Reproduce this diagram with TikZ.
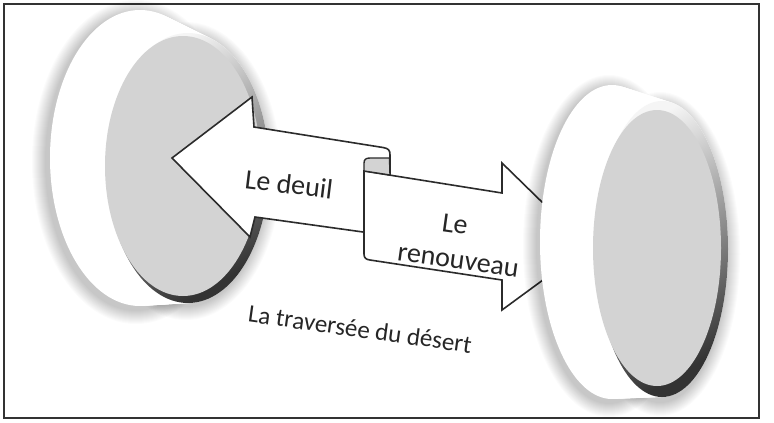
\documentclass[tikz,border=0pt]{standalone}
\usepackage{fontspec}
\setmainfont{Carlito}
\definecolor{linec}{HTML}{2B2B2B}
\definecolor{framec}{HTML}{333333}
\definecolor{facec}{HTML}{D3D3D3}
\definecolor{textc}{HTML}{262626}
\begin{document}
\begin{tikzpicture}[x=1pt,y=-1pt,
  ribbon/.style={fill=white, draw=linec, line width=1.6pt, line join=miter},
  lbl/.style={text=textc, font=\fontsize{28}{31}\selectfont, align=center, inner sep=0pt}]
\useasboundingbox (0,0) rectangle (774,423);
\fill[white] (0,0) rectangle (774,423);
\draw[line width=2.5pt, framec] (4,4) rectangle (759,418);

% ---- halo of left disk
\foreach \k in {1,...,14}{
  \fill[black, opacity=0.015] (136,162) ellipse [x radius=90+\k, y radius=148+\k];
  \fill[black, opacity=0.015] (186,171) ellipse [x radius=81+\k, y radius=135+\k];
}
% ---- left disk: side
\foreach \i in {0,...,20}{
  \pgfmathsetmacro\cx{140+\i/20*(188-140)}
  \pgfmathsetmacro\cy{158+\i/20*(168-158)}
  \pgfmathsetmacro\rx{90+\i/20*(81-90)}
  \pgfmathsetmacro\ry{148+\i/20*(135-148)}
  \fill[white] (\cx,\cy) ellipse [x radius=\rx, y radius=\ry];
}
% rim and face
\shade[top color=gray!8, bottom color=black!80, shading angle=30] (188,168) ellipse [x radius=81, y radius=135];
\fill[facec] (183,166) ellipse [x radius=78, y radius=130];

% ---- ribbons
\draw[ribbon] (172,158) -- (252,97) -- (254,127) -- (383,147.5)
  .. controls (388.5,148.5) and (390,150) .. (390,155) -- (390,240) -- (363,232)
  -- (255,217) -- (250,237) -- cycle;
\draw[ribbon] (364,171) -- (502,193) -- (502,163) -- (588,247) -- (502,310) -- (502,280)
  -- (370,260) .. controls (366,259.5) and (364,258) .. (364,254) -- cycle;
\draw[fill=facec, draw=linec, line width=1.4pt, line join=round] (364,171) -- (364,163)
  .. controls (364,159.5) and (366,158) .. (370,158) -- (389.5,158) -- (390,175) -- cycle;

% ---- halo of right disk
\foreach \k in {1,...,14}{
  \fill[black, opacity=0.015] (609,246) ellipse [x radius=72+\k, y radius=157+\k];
  \fill[black, opacity=0.015] (660,254) ellipse [x radius=66+\k, y radius=148+\k];
}
% ---- right disk: side
\foreach \i in {0,...,20}{
  \pgfmathsetmacro\cx{612+\i/20*(662-612)}
  \pgfmathsetmacro\cy{242+\i/20*(249-242)}
  \pgfmathsetmacro\rx{72+\i/20*(66-72)}
  \pgfmathsetmacro\ry{157+\i/20*(148-157)}
  \fill[white] (\cx,\cy) ellipse [x radius=\rx, y radius=\ry];
}
\shade[top color=gray!8, bottom color=black!80, shading angle=30] (662,249) ellipse [x radius=66, y radius=148];
\fill[facec] (657,248) ellipse [x radius=64, y radius=138];

% ---- labels
\node[lbl, rotate=-7] (deuil) at (289,184) {Le deuil};
\node[lbl, rotate=-8] (le) at (455,224) {Le};
\node[lbl, rotate=-8] (renouveau) at (458,262) {renouveau};
\node[lbl, font=\fontsize{25}{28}\selectfont, rotate=-8] (desert) at (360,329) {La traversée du désert};
\end{tikzpicture}
\end{document}
